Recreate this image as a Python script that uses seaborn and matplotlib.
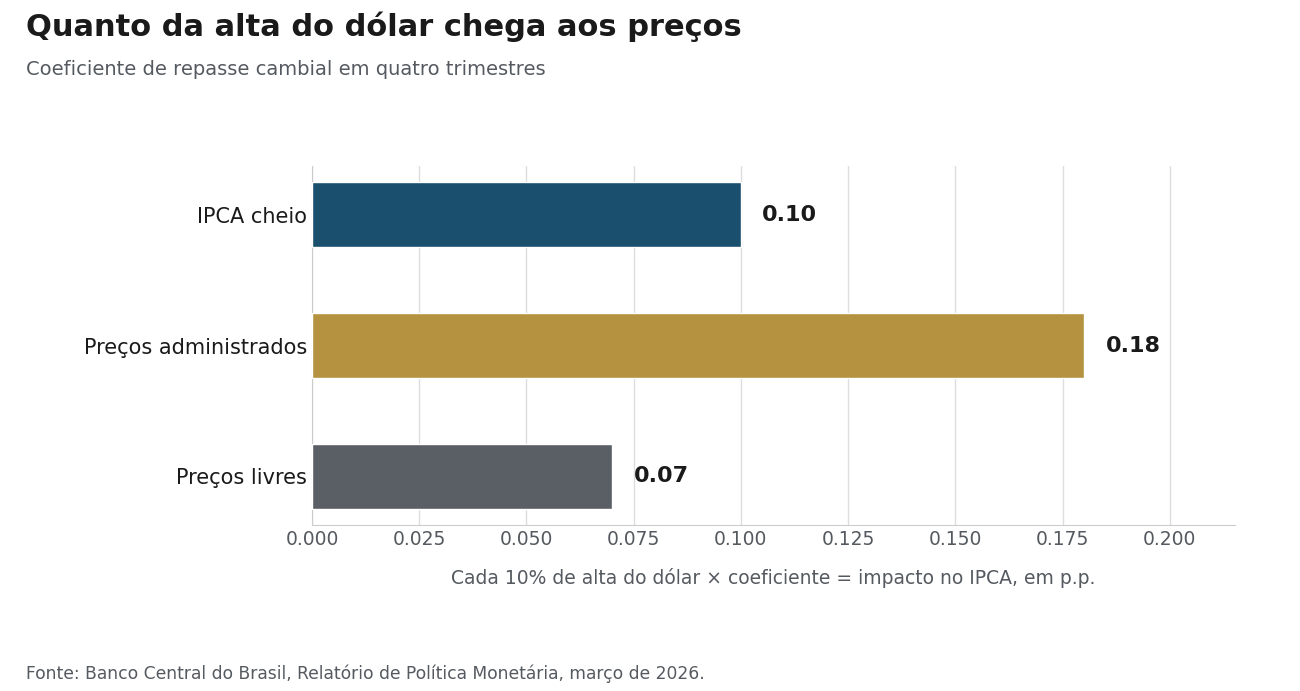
import pandas as pd
import seaborn as sns
import matplotlib.pyplot as plt

categories = ["IPCA cheio", "Preços administrados", "Preços livres"]
values = [0.10, 0.18, 0.07]
labels = ["0.10", "0.18", "0.07"]
colors = ["#1b4f6e", "#b5923f", "#5a5f66"]

sns.set_style("white")
plt.rcParams["font.family"] = ["DejaVu Sans"]

df = pd.DataFrame({"cat": categories, "val": values})

fig = plt.figure(figsize=(13, 6.91), dpi=100)
ax = fig.add_axes([0.24, 0.24, 0.71, 0.52])
sns.barplot(data=df, x="val", y="cat", hue="cat", palette=colors, width=0.5,
            saturation=1, legend=False, ax=ax, zorder=3)

for i, (v, lab) in enumerate(zip(values, labels)):
    ax.text(v + 0.005, i, lab, va="center", ha="left", fontsize=16,
            fontweight="bold", color="#1a1a1a")

ax.set_xlim(0, 0.2152)
ax.set_ylim(2.374, -0.374)
ax.set_xticks([0.025 * k for k in range(9)])
ax.set_xticklabels([f"{0.025 * k:.3f}" for k in range(9)])
ax.grid(axis="x", color="#dddddd", linewidth=1, zorder=0)
ax.set_ylabel("")
ax.set_xlabel("Cada 10% de alta do dólar × coeficiente = impacto no IPCA, em p.p.",
              fontsize=13.5, color="#555a60", labelpad=14)
ax.tick_params(axis="x", labelsize=13.5, colors="#555a60", length=0)
ax.tick_params(axis="y", labelsize=15, colors="#1a1a1a", length=0)
for s in ["top", "right"]:
    ax.spines[s].set_visible(False)
for s in ["left", "bottom"]:
    ax.spines[s].set_color("#cccccc")

fig.text(0.02, 0.948, "Quanto da alta do dólar chega aos preços", fontsize=22,
         fontweight="bold", color="#1a1a1a")
fig.text(0.02, 0.892, "Coeficiente de repasse cambial em quatro trimestres",
         fontsize=14, color="#555a60")
fig.text(0.02, 0.017, "Fonte: Banco Central do Brasil, Relatório de Política Monetária, março de 2026.",
         fontsize=12.3, color="#555a60")

fig.savefig("out.png", dpi=100)
